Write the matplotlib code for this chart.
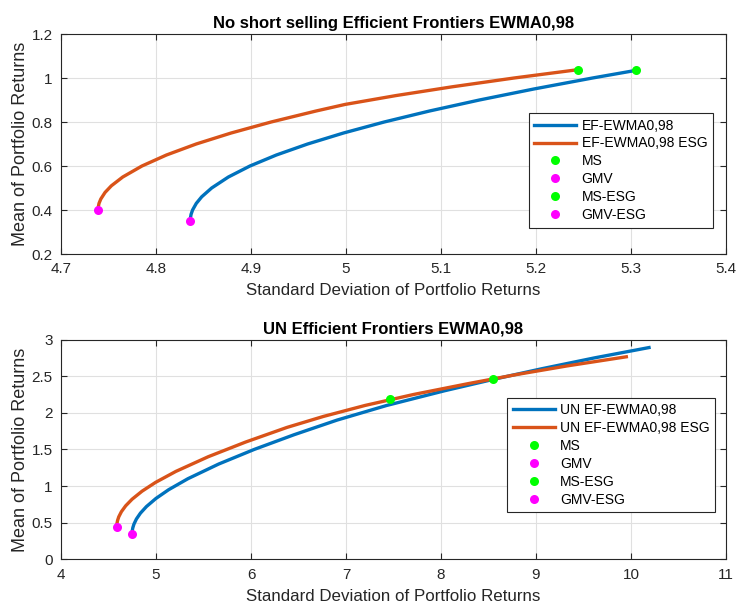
import matplotlib
matplotlib.use("Agg")
import matplotlib.pyplot as plt

# ---- No short selling frontiers (std dev, mean) ----
ns_ef_std = [4.8360, 4.8361, 4.8369, 4.8385, 4.8424, 4.8481, 4.8586, 4.8762,
             4.8989, 4.9267, 4.9596, 4.9974, 5.0402, 5.0879, 5.1404, 5.1977,
             5.2595, 5.3056]
ns_ef_mean = [0.350, 0.360, 0.380, 0.400, 0.430, 0.460, 0.500, 0.550,
              0.600, 0.650, 0.700, 0.750, 0.800, 0.850, 0.900, 0.950,
              1.000, 1.035]

ns_esg_std = [4.7390, 4.7391, 4.7400, 4.7419, 4.7464, 4.7530, 4.7650, 4.7852,
              4.8110, 4.8423, 4.8791, 4.9212, 4.9685, 4.9992, 5.0524, 5.1118,
              5.1769, 5.2445]
ns_esg_mean = [0.400, 0.410, 0.430, 0.450, 0.480, 0.510, 0.550, 0.600,
               0.650, 0.700, 0.750, 0.800, 0.850, 0.880, 0.920, 0.960,
               1.000, 1.038]

ns_ms = (5.3056, 1.035)
ns_gmv = (4.836, 0.350)
ns_ms_esg = (5.2445, 1.038)
ns_gmv_esg = (4.739, 0.400)

# ---- Unconstrained frontiers (std dev, mean) ----
un_ef_std = [4.7480, 4.7482, 4.7502, 4.7559, 4.7679, 4.7938, 4.8361, 4.8996,
             4.9990, 5.1332, 5.3359, 5.6594, 6.0347, 6.4528, 6.9059, 7.4291,
             8.0365, 8.5484, 9.0575, 9.6193, 10.1897]
un_ef_mean = [0.345, 0.360, 0.390, 0.430, 0.480, 0.550, 0.630, 0.720,
              0.830, 0.950, 1.100, 1.300, 1.500, 1.700, 1.900, 2.100,
              2.300, 2.455, 2.600, 2.750, 2.890]

un_esg_std = [4.5870, 4.5873, 4.5894, 4.5954, 4.6082, 4.6358, 4.6808, 4.7482,
              4.8536, 4.9957, 5.2096, 5.5497, 5.9426, 6.3786, 6.7624, 7.2010,
              7.7127, 8.2955, 8.7880, 9.3299, 9.9508]
un_esg_mean = [0.445, 0.460, 0.490, 0.530, 0.580, 0.650, 0.730, 0.820,
               0.930, 1.050, 1.200, 1.400, 1.600, 1.800, 1.950, 2.100,
               2.250, 2.400, 2.520, 2.640, 2.764]

un_ms = (8.5484, 2.455)
un_gmv = (4.748, 0.345)
un_ms_esg = (7.465, 2.182)
un_gmv_esg = (4.587, 0.445)

BLUE = "#0072BD"
ORANGE = "#D95319"
GREEN = "#00FF00"
MAGENTA = "#FF00FF"

plt.rcParams["font.family"] = ["Liberation Sans", "DejaVu Sans"]

fig = plt.figure(figsize=(7.39, 6.03), dpi=100)
W, H = 739, 603


def px_axes(left, top, right, bottom):
    return fig.add_axes([left / W, 1 - bottom / H, (right - left) / W, (bottom - top) / H])


def style(ax):
    ax.grid(True, color="#e0e0e0", linewidth=0.8)
    ax.set_axisbelow(True)
    for s in ax.spines.values():
        s.set_color("#262626")
        s.set_linewidth(0.8)
    ax.tick_params(direction="in", top=True, right=True, length=4,
                   labelsize=11, colors="#262626", pad=6)


def draw(ax, std1, mean1, std2, mean2, ms, gmv, mse, gmve, labels, title,
         xlim, ylim, xticks, yticks, legend_anchor):
    ax.plot(std1, mean1, color=BLUE, lw=2.4, label=labels[0], zorder=3,
            solid_joinstyle="round")
    ax.plot(std2, mean2, color=ORANGE, lw=2.4, label=labels[1], zorder=3,
            solid_joinstyle="round")
    ax.plot(*ms, "o", color=GREEN, ms=6.5, mec="none", label="MS", zorder=4)
    ax.plot(*gmv, "o", color=MAGENTA, ms=6.5, mec="none", label="GMV", zorder=4)
    ax.plot(*mse, "o", color=GREEN, ms=6.5, mec="none", label="MS-ESG", zorder=4)
    ax.plot(*gmve, "o", color=MAGENTA, ms=6.5, mec="none", label="GMV-ESG", zorder=4)
    ax.set_xlim(*xlim)
    ax.set_ylim(*ylim)
    ax.set_xticks(xticks)
    ax.set_yticks(yticks)
    ax.set_xticklabels([f"{t:g}" for t in xticks])
    ax.set_yticklabels([f"{t:g}" for t in yticks])
    style(ax)
    ax.set_xlabel("Standard Deviation of Portfolio Returns", fontsize=12.2,
                  color="#262626", labelpad=5)
    ax.set_ylabel("Mean of Portfolio Returns", fontsize=13, color="#262626",
                  labelpad=2)
    ax.set_title(title, fontsize=12, fontweight="bold", pad=4)
    leg = ax.legend(loc="upper right", bbox_to_anchor=legend_anchor,
                    fontsize=10, fancybox=False, framealpha=1,
                    edgecolor="#262626", handlelength=3.0, handletextpad=0.4,
                    labelspacing=0.28, borderpad=0.4, borderaxespad=0)
    leg.get_frame().set_linewidth(0.8)


ax1 = px_axes(61, 34, 726, 254)
draw(ax1, ns_ef_std, ns_ef_mean, ns_esg_std, ns_esg_mean,
     ns_ms, ns_gmv, ns_ms_esg, ns_gmv_esg,
     ["EF-EWMA0,98", "EF-EWMA0,98 ESG"],
     "No short selling Efficient Frontiers EWMA0,98",
     (4.7, 5.4), (0.2, 1.2),
     [4.7, 4.8, 4.9, 5.0, 5.1, 5.2, 5.3, 5.4],
     [0.2, 0.4, 0.6, 0.8, 1.0, 1.2],
     (0.980, 0.641))

ax2 = px_axes(61, 339.5, 726, 559.3)
draw(ax2, un_ef_std, un_ef_mean, un_esg_std, un_esg_mean,
     un_ms, un_gmv, un_ms_esg, un_gmv_esg,
     ["UN EF-EWMA0,98", "UN EF-EWMA0,98 ESG"],
     "UN Efficient Frontiers EWMA0,98",
     (4, 11), (0, 3),
     [4, 5, 6, 7, 8, 9, 10, 11],
     [0, 0.5, 1, 1.5, 2, 2.5, 3],
     (0.984, 0.735))

fig.savefig("out.png", dpi=100)
